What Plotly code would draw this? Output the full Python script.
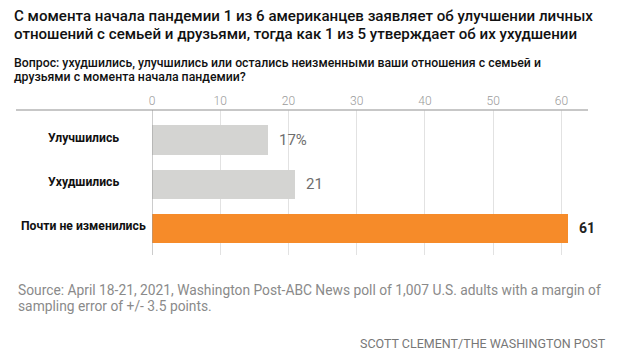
import plotly.graph_objects as go

categories = ["Улучшились", "Ухудшились", "Почти не изменились"]
values = [17, 21, 61]
value_labels = ["17%", "21", "61"]
bar_colors = ["#d4d4d2", "#d4d4d2", "#f68b29"]
label_colors = ["#6e6e6e", "#6e6e6e", "#222222"]
label_weights = ["normal", "normal", "bold"]
tick_vals = [0, 10, 20, 30, 40, 50, 60]

title_lines = [
    "С момента начала пандемии 1 из 6 американцев заявляет об улучшении личных",
    "отношений с семьей и друзьями, тогда как 1 из 5 утверждает об их ухудшении",
]
subtitle_lines = [
    "Вопрос: ухудшились, улучшились или остались неизменными ваши отношения с семьей и",
    "друзьями с момента начала пандемии?",
]
source_lines = [
    "Source: April 18-21, 2021, Washington Post-ABC News poll of 1,007 U.S. adults with a margin of",
    "sampling error of +/- 3.5 points.",
]
credit = "SCOTT CLEMENT/THE WASHINGTON POST"

W, H = 620, 361
O = 8  # page body offset
ML, MR, MT, MB = 152 - O, 32 + O, 110 - O, 106 + O
pw = W - ML - MR
ph = H - MT - MB

def px(x):
    return (x - O - ML) / pw

def py(y):
    return 1 - (y - O - MT) / ph

fig = go.Figure()
fig.add_trace(go.Bar(
    y=list(range(len(categories))), x=values, orientation="h",
    marker=dict(color=bar_colors, line=dict(width=0)), width=0.66,
    hoverinfo="skip",
))

ann = []
title_font = dict(family="Roboto", size=15.1, color="#111111", weight=500)
for i, t in enumerate(title_lines):
    ann.append(dict(text=t, x=px(12), y=py(15.5 + 18.5 * i), xref="paper", yref="paper",
                    xanchor="left", yanchor="middle", showarrow=False, font=title_font))
sub_font = dict(family="Roboto", size=12.3, color="#111111", weight=500)
for i, t in enumerate(subtitle_lines):
    ann.append(dict(text=t, x=px(12), y=py(63.5 + 13.5 * i), xref="paper", yref="paper",
                    xanchor="left", yanchor="middle", showarrow=False, font=sub_font))
src_font = dict(family="Roboto", size=13.8, color="#8a8a8a")
for i, t in enumerate(source_lines):
    ann.append(dict(text=t, x=px(16), y=py(290 + 15.5 * i), xref="paper", yref="paper",
                    xanchor="left", yanchor="middle", showarrow=False, font=src_font))
ann.append(dict(text=credit, x=px(608), y=py(343), xref="paper", yref="paper",
                xanchor="right", yanchor="middle", showarrow=False,
                font=dict(family="Roboto", size=12.5, color="#777777")))
for i, c in enumerate(categories):
    ann.append(dict(text=c, x=px(83), y=i, xref="paper", yref="y",
                    xanchor="center", yanchor="middle", showarrow=False, yshift=2,
                    font=dict(family="Roboto", size=12.2, color="#111111", weight="bold")))
for i, (v, lab) in enumerate(zip(values, value_labels)):
    ann.append(dict(text=lab, x=v, y=i, xref="x", yref="y", xanchor="left", yanchor="middle",
                    xshift=9, showarrow=False,
                    font=dict(family="Roboto", size=15 if i < 2 else 14, color=label_colors[i],
                              weight=label_weights[i])))

fig.update_layout(
    width=W, height=H,
    margin=dict(l=ML, r=MR, t=MT, b=MB),
    paper_bgcolor="white", plot_bgcolor="white",
    showlegend=False,
    annotations=ann,
    bargap=0,
    shapes=[dict(type="line", xref="paper", yref="paper", x0=px(16), x1=1, y0=1, y1=1,
                 line=dict(color="#b5b5b5", width=1.5)),
            dict(type="line", xref="x", yref="paper", x0=0, x1=0, y0=0, y1=1,
                 line=dict(color="#9a9a9a", width=1), layer="above")],
    xaxis=dict(range=[0, 63.9], side="top", tickvals=tick_vals, showgrid=True,
               gridcolor="#e2e2e2", gridwidth=1, zeroline=False, showline=False,
               ticks="", tickfont=dict(family="Roboto", size=12, color="#9a9a9a", weight=300),
               ticklabelstandoff=2),
    yaxis=dict(range=[2.61, -0.68], showticklabels=False, showgrid=False,
               zeroline=False, showline=False, ticks=""),
)

fig.write_html("out.html")
